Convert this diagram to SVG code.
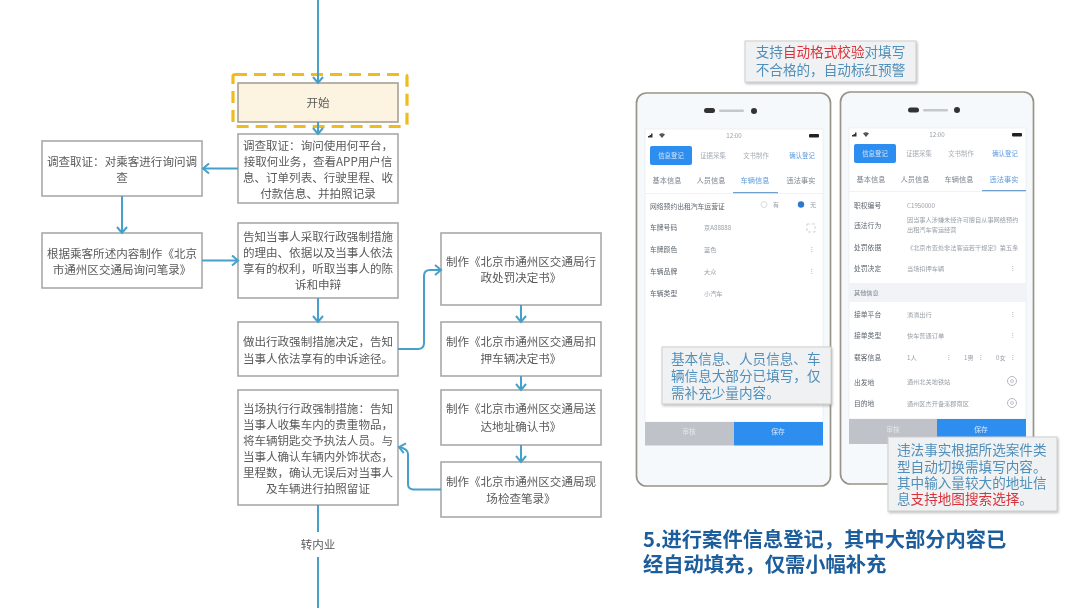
<svg xmlns="http://www.w3.org/2000/svg" width="1080" height="608" viewBox="0 0 1080 608">
<style>
text{font-family:"Noto Sans CJK SC","Noto Sans",sans-serif}
.b{fill:#fff;stroke:#a9a9a9;stroke-width:1.6}
.t{font-size:11.55px;fill:#5a5a5a;text-anchor:middle}
.c{fill:none;stroke:#46a0c9;stroke-width:2;marker-end:url(#a)}
.n{fill:none;stroke:#46a0c9;stroke-width:2}
.ph{fill:#f6f9fc;stroke:#9a9488;stroke-width:1.700}
.sc{fill:#fff;stroke:#e4e8ec;stroke-width:.6}
.s{font-size:6.2px;fill:#9aa0a8}
.l{font-size:6.8px;fill:#5f6670}
.tab{font-size:7.2px;fill:#7c8490;text-anchor:middle}
.co{fill:#f0f1f2;stroke:#cfcfcf;stroke-width:1;filter:url(#sh)}
.ct{font-size:13.6px;fill:#4f8fba}
.red{fill:#d8333c}
</style>
<defs>
<marker id="a" markerUnits="userSpaceOnUse" markerWidth="14" markerHeight="14" refX="9" refY="6" orient="auto"><path d="M3 1L9 6L3 11" fill="none" stroke="#46a0c9" stroke-width="2"/></marker>
<filter id="sh" x="-5%" y="-10%" width="110%" height="125%"><feDropShadow dx="1" dy="1.5" stdDeviation="1.2" flood-color="#888" flood-opacity=".55"/></filter>
<filter id="bl"><feGaussianBlur stdDeviation=".35"/></filter>
<filter id="bl2"><feGaussianBlur stdDeviation=".45"/></filter>
<g id="pin"><path d="M0 -4.500A4 4 0 0 1 0 4.500A4 4 0 0 1 0 -4.500Z" fill="none" stroke="#a9b0b8" stroke-width=".9"/><circle r="1.500" fill="none" stroke="#a9b0b8" stroke-width=".7"/></g>
</defs>
<rect width="1080" height="608" fill="#fff"/>
<g filter="url(#bl)">
<g id="n-start">
<rect x="238" y="83" width="160" height="39" fill="#fdf3e1" stroke="#a6a196" stroke-width="1.6"/>
<rect x="233" y="74.500" width="174" height="52" rx="2" fill="none" stroke="#f0bb1e" stroke-width="3.2" stroke-dasharray="12 7"/>
<text class="t" x="318" y="107">开始</text>
</g>
<g id="n-survey">
<rect class="b" x="238" y="134" width="160" height="69"/>
<text class="t" x="318" y="150">调查取证&#xFF1A;询问使用何平台&#xFF0C;</text>
<text class="t" x="318" y="166">接取何业务&#xFF0C;查看APP用户信</text>
<text class="t" x="318" y="182">息、订单列表、行驶里程、收</text>
<text class="t" x="318" y="198">付款信息、并拍照记录</text>
</g>
<g id="n-passenger">
<rect class="b" x="42" y="141" width="160" height="55"/>
<text class="t" x="122" y="166">调查取证&#xFF1A;对乘客进行询问调</text>
<text class="t" x="122" y="182">查</text>
</g>
<g id="n-record">
<rect class="b" x="42" y="233" width="160" height="55"/>
<text class="t" x="122" y="258">根据乘客所述内容制作《北京</text>
<text class="t" x="122" y="274">市通州区交通局询问笔录》</text>
</g>
<g id="n-inform">
<rect class="b" x="238" y="223" width="160" height="75"/>
<text class="t" x="318" y="241">告知当事人采取行政强制措施</text>
<text class="t" x="318" y="257">的理由、依据以及当事人依法</text>
<text class="t" x="318" y="273">享有的权利&#xFF0C;听取当事人的陈</text>
<text class="t" x="318" y="289">诉和申辩</text>
</g>
<g id="n-decision">
<rect class="b" x="238" y="322" width="160" height="54"/>
<text class="t" x="318" y="346">做出行政强制措施决定&#xFF0C;告知</text>
<text class="t" x="318" y="363">当事人依法享有的申诉途径。</text>
</g>
<g id="n-execute">
<rect class="b" x="238" y="390" width="160" height="115"/>
<text class="t" x="318" y="413">当场执行行政强制措施&#xFF1A;告知</text>
<text class="t" x="318" y="429">当事人收集车内的贵重物品&#xFF0C;</text>
<text class="t" x="318" y="445">将车辆钥匙交予执法人员。与</text>
<text class="t" x="318" y="461">当事人确认车辆内外饰状态&#xFF0C;</text>
<text class="t" x="318" y="477">里程数&#xFF0C;确认无误后对当事人</text>
<text class="t" x="318" y="493">及车辆进行拍照留证</text>
</g>
<g id="n-doc1">
<rect class="b" x="441" y="233" width="160" height="72"/>
<text class="t" x="521" y="266">制作《北京市通州区交通局行</text>
<text class="t" x="521" y="282">政处罚决定书》</text>
</g>
<g id="n-doc2">
<rect class="b" x="441" y="322" width="160" height="54"/>
<text class="t" x="521" y="346">制作《北京市通州区交通局扣</text>
<text class="t" x="521" y="363">押车辆决定书》</text>
</g>
<g id="n-doc3">
<rect class="b" x="441" y="390" width="160" height="55"/>
<text class="t" x="521" y="413">制作《北京市通州区交通局送</text>
<text class="t" x="521" y="431">达地址确认书》</text>
</g>
<g id="n-doc4">
<rect class="b" x="441" y="462" width="160" height="55"/>
<text class="t" x="521" y="486">制作《北京市通州区交通局现</text>
<text class="t" x="521" y="503">场检查笔录》</text>
</g>
<g id="n-inner"><text class="t" x="318" y="549">转内业</text></g>
<g id="connectors">
<path class="c" d="M318 0V83"/>
<path class="c" d="M318 122V134"/>
<path class="c" d="M238 168.500H203"/>
<path class="c" d="M122 196V233"/>
<path class="c" d="M202 260.500H238"/>
<path class="c" d="M318 298V322"/>
<path class="c" d="M398 349H418Q424 349 424 343V276Q424 270 430 270H441"/>
<path class="c" d="M521 305V322"/>
<path class="c" d="M521 376V390"/>
<path class="c" d="M521 445V462"/>
<path class="c" d="M441 489.500H413Q408 489 408 484V454Q408 449 399 447"/>
<path class="n" d="M318 505V532"/>
<path class="n" d="M318 557V608"/>
</g>
</g>
<g id="phone1" filter="url(#bl2)">
<rect class="ph" x="636.500" y="93" width="194" height="393" rx="10"/>
<rect x="704" y="108" width="11" height="5" rx="2.500" fill="#333"/><rect x="719" y="109.500" width="25" height="2.500" rx="1.200" fill="#c4c8cc"/><circle cx="754" cy="111" r="3" fill="#333"/>
<rect class="sc" x="645" y="129" width="178" height="293"/>
<path d="M648 137.500v-1.500h1.500v-1h1.500v-1.500h1.500v4z" fill="#333"/><path d="M659 134.500a4.500 4.500 0 0 1 6 0L662 138Z" fill="#555"/>
<text class="s" x="734" y="138" text-anchor="middle" fill="#555">12:00</text>
<rect x="809" y="134" width="10" height="3.500" rx="1" fill="#222"/>
<rect x="650" y="146" width="42" height="19" rx="2" fill="#2f8ef0"/>
<text class="tab" x="671" y="158" style="fill:#cfe4fb;font-size:6.400px">信息登记</text>
<text class="tab" x="713" y="158" style="font-size:6.400px;fill:#a7adb5">证据采集</text>
<text class="tab" x="756" y="158" style="font-size:6.400px;fill:#a7adb5">文书制作</text>
<text class="tab" x="802" y="158" style="font-size:6.400px;fill:#5d9bdc">确认登记</text>
<text class="tab" x="667" y="183">基本信息</text><text class="tab" x="711" y="183">人员信息</text><text class="tab" x="755" y="183" style="fill:#5d9bdc">车辆信息</text><text class="tab" x="801" y="183">违法事实</text>
<rect x="733" y="192" width="45" height="1.500" fill="#6f9fd0"/><rect x="645" y="193" width="178" height=".6" fill="#e6e9ed"/>
<text class="l" x="650" y="209">网络预约出租汽车运营证</text>
<circle cx="764" cy="204.500" r="3" fill="none" stroke="#ccc" stroke-width=".7"/><text class="s" x="773" y="207">有</text>
<circle cx="801" cy="204.500" r="3.200" fill="#2f78d0"/><text class="s" x="810" y="207">无</text>
<text class="l" x="650" y="230">车牌号码</text><text class="s" x="704" y="230">京A88888</text>
<rect x="807" y="224" width="8" height="8" fill="none" stroke="#b9bec4" stroke-width=".7" stroke-dasharray="3 2"/>
<text class="l" x="650" y="252">车牌颜色</text><text class="s" x="704" y="252">蓝色</text><text class="s" x="811" y="252">⁝</text>
<text class="l" x="650" y="274">车辆品牌</text><text class="s" x="704" y="274">大众</text><text class="s" x="811" y="274">⁝</text>
<text class="l" x="650" y="296">车辆类型</text><text class="s" x="704" y="296">小汽车</text>
<rect x="645" y="422" width="89" height="23.500" fill="#bfc3c9"/><rect x="734" y="422" width="89" height="23.500" fill="#2f8ef0"/>
<text class="tab" x="689" y="434" style="fill:#e3e5e8;font-size:6.800px">审核</text><text class="tab" x="778" y="434" style="fill:#d6e8fc;font-size:6.800px">保存</text>
</g>
<g id="phone2" filter="url(#bl2)">
<rect class="ph" x="840.500" y="92" width="193" height="392" rx="10"/>
<rect x="908" y="107.500" width="11" height="5" rx="2.500" fill="#333"/><rect x="923" y="109" width="25" height="2.500" rx="1.200" fill="#c4c8cc"/><circle cx="957" cy="110" r="3" fill="#333"/>
<rect class="sc" x="849" y="128" width="177" height="291"/>
<path d="M852 136.500v-1.500h1.500v-1h1.500v-1.500h1.500v4z" fill="#333"/><path d="M863 133.500a4.500 4.500 0 0 1 6 0L866 137Z" fill="#555"/>
<text class="s" x="937" y="137" text-anchor="middle">12:00</text>
<rect x="1012" y="133" width="10" height="3.500" rx="1" fill="#222"/>
<rect x="854" y="144" width="42" height="19" rx="2" fill="#2f8ef0"/>
<text class="tab" x="875" y="156" style="fill:#cfe4fb;font-size:6.400px">信息登记</text>
<text class="tab" x="919" y="156" style="font-size:6.400px;fill:#a7adb5">证据采集</text>
<text class="tab" x="961" y="156" style="font-size:6.400px;fill:#a7adb5">文书制作</text>
<text class="tab" x="1005" y="156" style="font-size:6.400px;fill:#5d9bdc">确认登记</text>
<text class="tab" x="871" y="182">基本信息</text><text class="tab" x="915" y="182">人员信息</text><text class="tab" x="959" y="182">车辆信息</text><text class="tab" x="1004" y="182" style="fill:#5d9bdc">违法事实</text>
<rect x="982" y="190" width="44" height="1.500" fill="#6f9fd0"/><rect x="849" y="191" width="177" height=".6" fill="#e6e9ed"/>
<text class="l" x="854" y="208">职权编号</text><text class="s" x="907" y="208">C1950000</text>
<text class="l" x="854" y="228">违法行为</text><text class="s" x="907" y="222">因当事人涉嫌未经许可擅自从事网络预约</text><text class="s" x="907" y="232">出租汽车客运经营</text>
<text class="l" x="854" y="250">处罚依据</text><text class="s" x="907" y="250">《北京市查处非法客运若干规定》第五条</text>
<text class="l" x="854" y="271">处罚决定</text><text class="s" x="907" y="271">当场扣押车辆</text><text class="s" x="1012" y="271">⁝</text>
<rect x="849" y="283" width="177" height="19" fill="#f1f3f6"/><text class="s" x="854" y="295" style="fill:#7c8490">其他信息</text>
<text class="l" x="854" y="317">接单平台</text><text class="s" x="907" y="317">滴滴出行</text><text class="s" x="1012" y="317">⁝</text>
<text class="l" x="854" y="338">接单类型</text><text class="s" x="907" y="338">快车普通订单</text><text class="s" x="1012" y="338">⁝</text>
<text class="l" x="854" y="360">载客信息</text><text class="s" x="907" y="360">1人</text><text class="s" x="948" y="360">⁝</text><text class="s" x="964" y="360">1男</text><text class="s" x="980" y="360">⁝</text><text class="s" x="996" y="360">0女</text><text class="s" x="1012" y="360">⁝</text>
<text class="l" x="854" y="385">出发地</text><text class="s" x="907" y="384">通州北关地铁站</text><use href="#pin" x="1012" y="381"/>
<text class="l" x="854" y="406">目的地</text><text class="s" x="907" y="406">通州区杰开备溪郡南区</text><use href="#pin" x="1012" y="403"/>
<rect x="849" y="419" width="88" height="25" fill="#bfc3c9"/><rect x="937" y="419" width="89" height="25" fill="#2f8ef0"/>
<text class="tab" x="893" y="432" style="fill:#e3e5e8;font-size:6.800px">审核</text><text class="tab" x="981" y="432" style="fill:#d6e8fc;font-size:6.800px">保存</text>
</g>
<g id="callouts" filter="url(#bl)">
<g id="note-top"><rect class="co" x="745" y="41" width="171" height="41"/>
<text class="ct" text-anchor="middle"><tspan x="830.500" y="57">支持<tspan class="red">自动格式校验</tspan>对填写</tspan><tspan x="830.500" y="75">不合格的&#xFF0C;自动标红预警</tspan></text></g>
<g id="note-left"><rect class="co" x="662" y="347" width="169" height="57"/>
<text class="ct"><tspan x="671" y="364">基本信息、人员信息、车</tspan><tspan x="671" y="381">辆信息大部分已填写&#xFF0C;仅</tspan><tspan x="671" y="398">需补充少量内容。</tspan></text></g>
<g id="note-right"><rect class="co" x="888" y="437" width="169" height="74"/>
<text class="ct"><tspan x="897" y="455">违法事实根据所选案件类</tspan><tspan x="897" y="472">型自动切换需填写内容。</tspan><tspan x="897" y="488">其中输入量较大的地址信</tspan><tspan x="897" y="504">息<tspan class="red">支持地图搜索选择</tspan>。</tspan></text></g>
</g>
<g id="title" filter="url(#bl)" font-size="20.300" font-weight="700" fill="#1f5d9c">
<text x="643" y="547">5.进行案件信息登记&#xFF0C;其中大部分内容已</text>
<text x="643" y="571.500">经自动填充&#xFF0C;仅需小幅补充</text>
</g>
</svg>
